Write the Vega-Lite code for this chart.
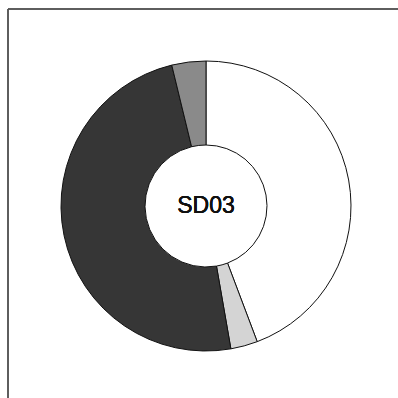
{
  "$schema": "https://vega.github.io/schema/vega-lite/v6.json",
  "width": 396,
  "height": 394,
  "padding": {"left": 7, "top": 8, "right": 0, "bottom": 0},
  "background": "white",
  "config": {"view": {"stroke": null}},
  "data": {
    "values": [
      {"segment": "A", "value": 44.3, "rank": 1},
      {"segment": "B", "value": 3.0, "rank": 2},
      {"segment": "C", "value": 49.0, "rank": 3},
      {"segment": "D", "value": 3.8, "rank": 4}
    ]
  },
  "layer": [
    {
      "mark": {"type": "rect", "fill": null, "stroke": "#555555", "strokeWidth": 1},
      "encoding": {
        "x": {"value": 0},
        "x2": {"value": "width"},
        "y": {"value": 0},
        "y2": {"value": "height"}
      }
    },
    {
      "mark": {"type": "arc", "outerRadius": 145, "innerRadius": 61, "stroke": "#111111", "strokeWidth": 1},
      "encoding": {
        "theta": {"field": "value", "type": "quantitative", "stack": true},
        "order": {"field": "rank", "type": "quantitative"},
        "color": {
          "field": "segment",
          "type": "nominal",
          "scale": {"domain": ["A", "B", "C", "D"], "range": ["#ffffff", "#d4d4d4", "#363636", "#8a8a8a"]},
          "legend": null
        }
      }
    },
    {
      "mark": {"type": "text", "text": "SD03", "fontSize": 23, "font": "Liberation Sans", "color": "#111111", "align": "center", "baseline": "middle"},
      "encoding": {}
    }
  ]
}
